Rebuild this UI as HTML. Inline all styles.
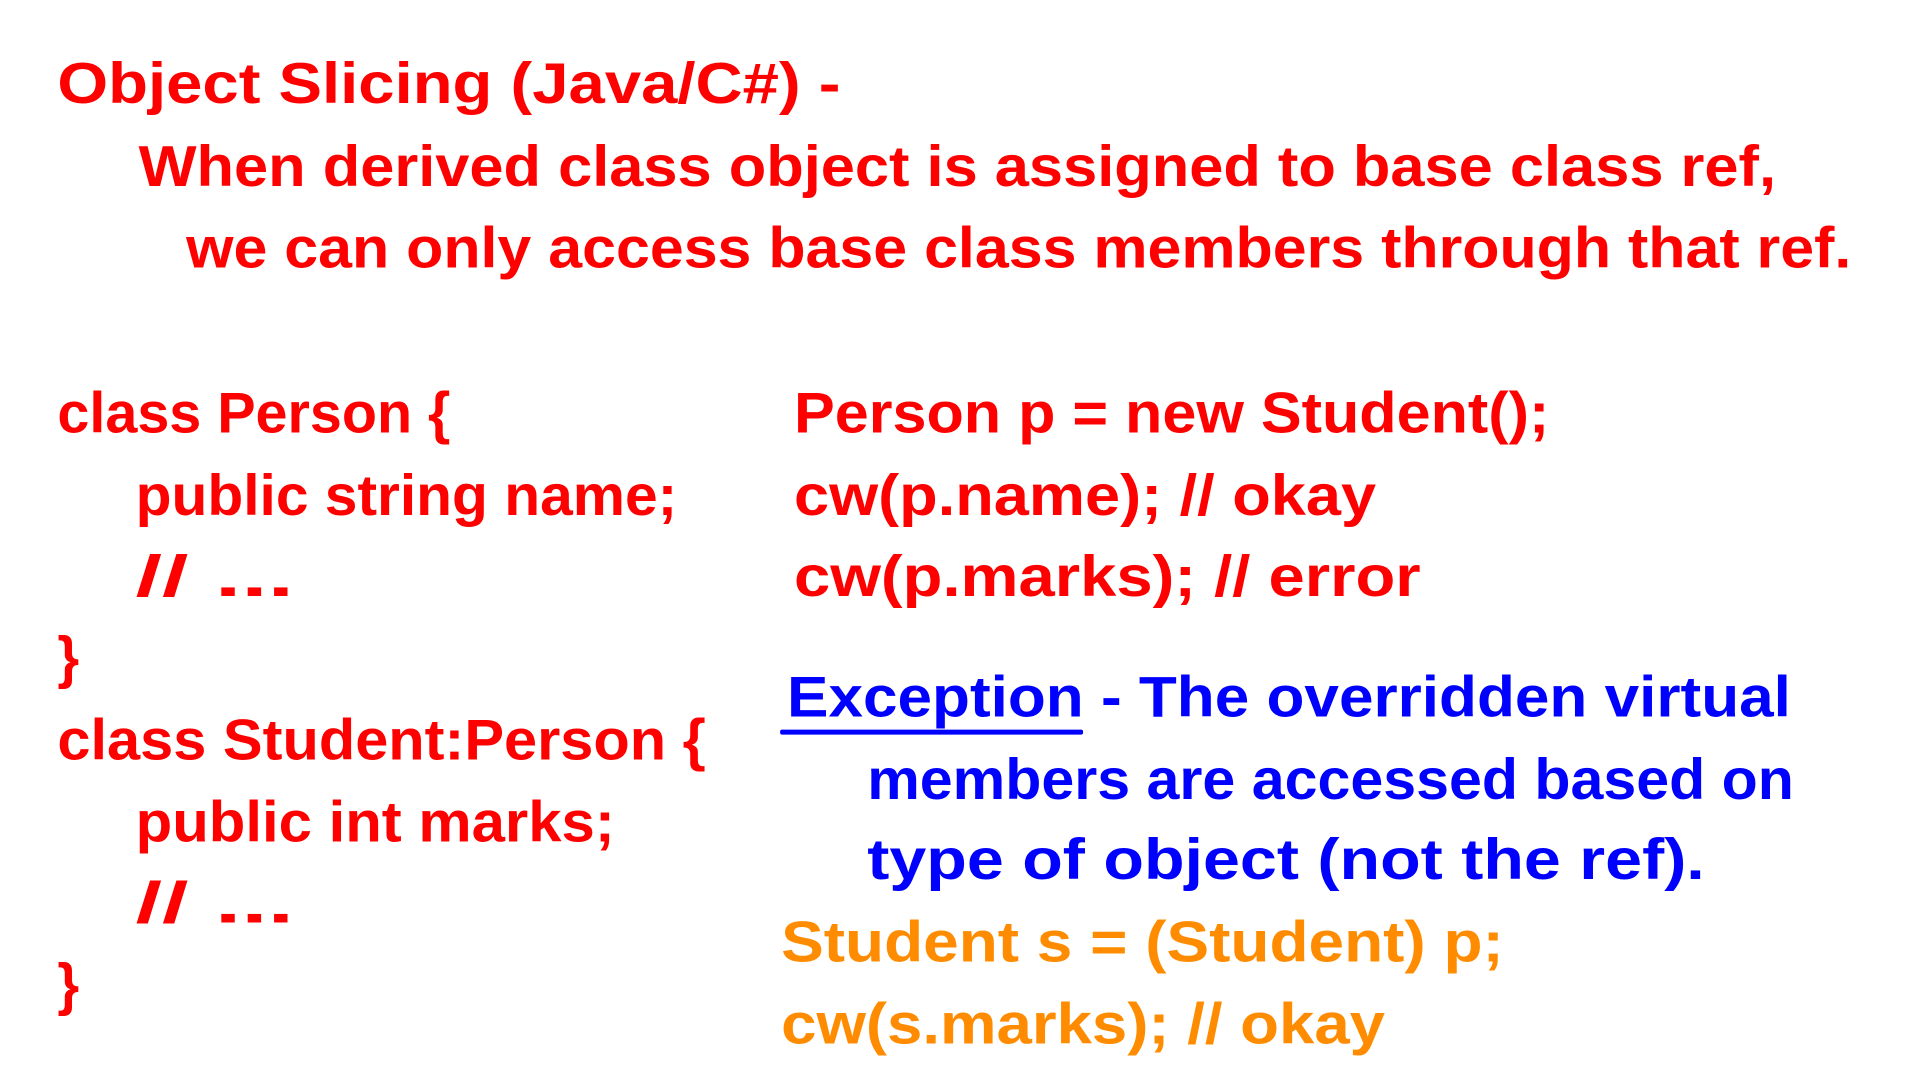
<!DOCTYPE html>
<html><head><meta charset="utf-8"><style>
html,body{margin:0;padding:0;background:#fff;}
svg{display:block;}
text{font-family:"Liberation Sans",sans-serif;font-weight:bold;font-size:58px;}
.r{fill:#ff0000}.b{fill:#0000ff}.o{fill:#ff8c00}
</style></head><body>
<svg width="1920" height="1080" viewBox="0 0 1920 1080" xmlns="http://www.w3.org/2000/svg">
<rect width="1920" height="1080" fill="#fff"/>
<g transform="scale(0.99)">
<text class="r" x="58" y="104" textLength="791" lengthAdjust="spacingAndGlyphs">Object Slicing (Java/C#) -</text>
<text class="r" x="140" y="188" textLength="1654" lengthAdjust="spacingAndGlyphs">When derived class object is assigned to base class ref,</text>
<text class="r" x="188" y="270" textLength="1682" lengthAdjust="spacingAndGlyphs">we can only access base class members through that ref.</text>

<text class="r" x="58" y="437" textLength="397" lengthAdjust="spacingAndGlyphs">class Person {</text>
<text class="r" x="137" y="520" textLength="547" lengthAdjust="spacingAndGlyphs">public string name;</text>
<text class="r" x="137" y="602" textLength="160" lengthAdjust="spacingAndGlyphs">// ...</text>
<text class="r" x="58" y="684" textLength="22" lengthAdjust="spacingAndGlyphs">}</text>
<text class="r" x="58" y="767" textLength="655" lengthAdjust="spacingAndGlyphs">class Student:Person {</text>
<text class="r" x="137" y="850" textLength="484" lengthAdjust="spacingAndGlyphs">public int marks;</text>
<text class="r" x="137" y="932" textLength="160" lengthAdjust="spacingAndGlyphs">// ...</text>
<text class="r" x="58" y="1014" textLength="22" lengthAdjust="spacingAndGlyphs">}</text>

<text class="r" x="802" y="437" textLength="763" lengthAdjust="spacingAndGlyphs">Person p = new Student();</text>
<text class="r" x="802" y="520" textLength="588" lengthAdjust="spacingAndGlyphs">cw(p.name); // okay</text>
<text class="r" x="802" y="602" textLength="633" lengthAdjust="spacingAndGlyphs">cw(p.marks); // error</text>

<text class="b" x="795" y="724" textLength="1014" lengthAdjust="spacingAndGlyphs">Exception - The overridden virtual</text>
<rect x="788" y="737" width="306" height="5" rx="2" fill="#0000ff"/>
<text class="b" x="876" y="807" textLength="936" lengthAdjust="spacingAndGlyphs">members are accessed based on</text>
<text class="b" x="876" y="888" textLength="846" lengthAdjust="spacingAndGlyphs">type of object (not the ref).</text>

<text class="o" x="789" y="971" textLength="730" lengthAdjust="spacingAndGlyphs">Student s = (Student) p;</text>
<text class="o" x="789" y="1054" textLength="610" lengthAdjust="spacingAndGlyphs">cw(s.marks); // okay</text>
</g>
</svg>
</body></html>
